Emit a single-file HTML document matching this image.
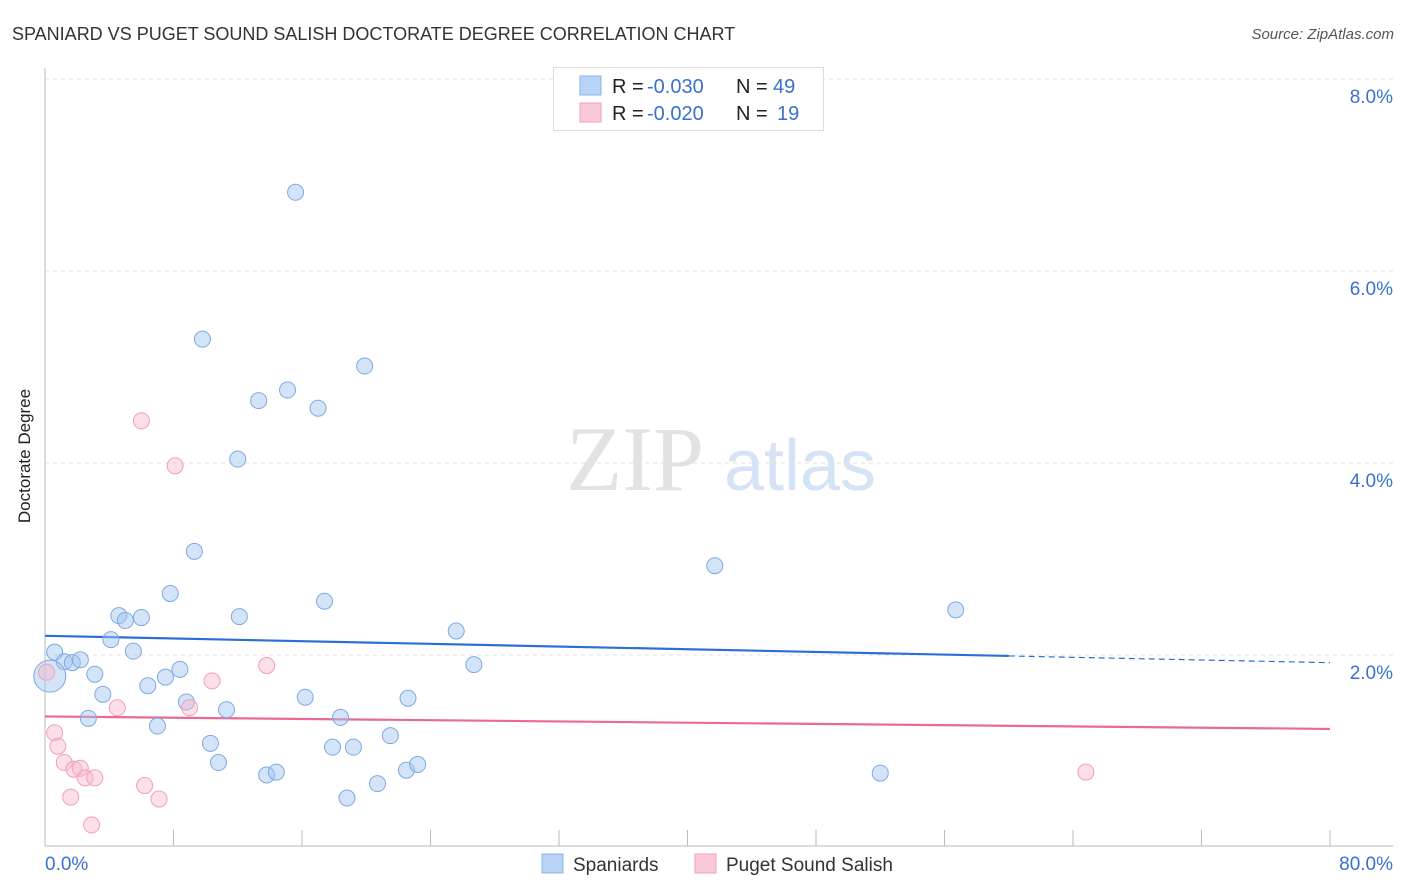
<!DOCTYPE html>
<html><head><meta charset="utf-8"><style>
body{margin:0;background:#fff;font-family:"Liberation Sans",sans-serif}
svg{display:block}
</style></head><body>
<svg id="c" width="1406" height="892">
<text x="12" y="40" font-size="18" fill="#333">SPANIARD VS PUGET SOUND SALISH DOCTORATE DEGREE CORRELATION CHART</text>
<text x="1394" y="39" font-size="15" fill="#555" font-style="italic" text-anchor="end">Source: ZipAtlas.com</text>
<text x="30" y="456" font-size="17" fill="#222" text-anchor="middle" transform="rotate(-90 30 456)">Doctorate Degree</text>
<g>
<text x="635" y="490" font-size="92" fill="#e2e2e2" font-family="Liberation Serif,serif" text-anchor="middle">ZIP</text>
<text x="800" y="490" font-size="72" fill="#d5e3f5" text-anchor="middle">atlas</text>
</g>
<g id="grid"></g><g id="axes"></g><g id="trends"></g><g id="pts"></g>
<g>
<rect x="553.5" y="67.5" width="270" height="63" fill="#fff" stroke="#ddd"/>
<rect x="580" y="76" width="21" height="19" fill="#b8d3f5" stroke="#8ab4e8"/>
<rect x="580" y="103" width="21" height="19" fill="#fac8d6" stroke="#f0a0b8"/>
<text x="612" y="93" font-size="20" fill="#222">R =</text>
<text x="647" y="93" font-size="20" fill="#3a70d0">-0.030</text>
<text x="736" y="93" font-size="20" fill="#222">N =</text>
<text x="773" y="93" font-size="20" fill="#3a70d0">49</text>
<text x="612" y="120" font-size="20" fill="#222">R =</text>
<text x="647" y="120" font-size="20" fill="#3a70d0">-0.020</text>
<text x="736" y="120" font-size="20" fill="#222">N =</text>
<text x="777" y="120" font-size="20" fill="#3a70d0">19</text>
</g>
<g>
<rect x="542" y="854" width="21" height="19" fill="#b8d3f5" stroke="#8ab4e8"/>
<text x="573" y="871" font-size="19" fill="#333">Spaniards</text>
<rect x="695" y="854" width="21" height="19" fill="#fac8d6" stroke="#f0a0b8"/>
<text x="726" y="871" font-size="19" fill="#333">Puget Sound Salish</text>
</g>
</svg>
<script>
const blueX=[15.6,9.8,19.9,13.3,15.1,17.0,12.0,9.3,41.7,7.8,17.4,56.7,4.6,5.0,6.0,12.1,4.1,25.6,5.5,0.6,1.2,1.7,2.2,26.7,3.1,8.4,7.5,6.4,3.6,16.2,22.6,8.8,11.3,2.7,18.4,7.0,21.5,10.3,17.9,19.2,10.8,13.8,14.4,22.5,23.2,52.0,18.8,20.7,0.3];
const blueY=[6.82,5.29,5.01,4.65,4.76,4.57,4.04,3.08,2.93,2.64,2.56,2.47,2.41,2.36,2.39,2.40,2.16,2.25,2.04,2.03,1.93,1.92,1.95,1.90,1.80,1.85,1.77,1.68,1.59,1.56,1.55,1.51,1.43,1.34,1.35,1.26,1.16,1.08,1.04,1.04,0.88,0.75,0.78,0.80,0.86,0.77,0.51,0.66,1.78];
const pinkX=[6.0,8.1,13.8,10.4,4.5,9.0,0.6,0.8,1.2,1.8,2.2,2.5,3.1,6.2,1.6,7.1,2.9,64.8,0.1];
const pinkY=[4.44,3.97,1.89,1.73,1.45,1.45,1.19,1.05,0.88,0.81,0.82,0.72,0.72,0.64,0.52,0.50,0.23,0.78,1.82];
const yTicks=[2,4,6,8];
const yTickLabels=["2.0%","4.0%","6.0%","8.0%"];
const blueTrend=[2.20,1.92];
const pinkTrend=[1.36,1.23];
const NS="http://www.w3.org/2000/svg";
const sx=v=>45+v*1285/80, sy=v=>847-v*96;
function mk(t,a,p){const e=document.createElementNS(NS,t);for(const k in a)e.setAttribute(k,a[k]);p.appendChild(e);return e;}
const grid=document.getElementById('grid'),axes=document.getElementById('axes'),tr=document.getElementById('trends'),pts=document.getElementById('pts');
yTicks.forEach((v,i)=>{
 const l=mk('line',{x1:45,x2:1393,y1:sy(v),y2:sy(v),stroke:'#e0e0e0','stroke-dasharray':'4,4'},grid);
 
 
 const t=mk('text',{x:1393,y:sy(v)+24,'font-size':19,fill:'#3a70d0','text-anchor':'end'},grid);
 t.textContent=yTickLabels[i];
 
 
});
const ax=mk('line',{x1:45,x2:45,y1:68,y2:846,stroke:'#bbb'},axes);


const bx=mk('line',{x1:45,x2:1393,y1:846,y2:846,stroke:'#bbb'},axes);


for(let i=0;i<=10;i++){const tk=mk('line',{x1:sx(i*8),x2:sx(i*8),y1:830,y2:846,stroke:'#bbb'},axes);
 
 }
[["0.0%",45,'start'],["80.0%",1393,'end']].forEach(d=>{const t=mk('text',{x:d[1],y:870,'font-size':19,fill:'#3a70d0','text-anchor':d[2]},axes);t.textContent=d[0];
 
 });
const b1=mk('line',{x1:sx(0),y1:sy(blueTrend[0]),x2:sx(60),y2:sy(blueTrend[0]+(blueTrend[1]-blueTrend[0])*0.75),stroke:'#2b6fd6','stroke-width':2.2},tr);


const b2=mk('line',{x1:sx(60),y1:sy(blueTrend[0]+(blueTrend[1]-blueTrend[0])*0.75),x2:sx(80),y2:sy(blueTrend[1]),stroke:'#2b6fd6','stroke-width':1.2,'stroke-dasharray':'6,4'},tr);


const p1=mk('line',{x1:sx(0),y1:sy(pinkTrend[0]),x2:sx(80),y2:sy(pinkTrend[1]),stroke:'#e86a94','stroke-width':2.2},tr);


blueX.forEach((x,i)=>{const c=mk('circle',{cx:sx(x),cy:sy(blueY[i]),r:i==blueX.length-1?16:8,fill:'rgba(160,195,240,0.45)',stroke:'#7fa9e3','stroke-width':1},pts);
 
 });
pinkX.forEach((x,i)=>{const c=mk('circle',{cx:sx(x),cy:sy(pinkY[i]),r:8,fill:'rgba(248,185,205,0.45)',stroke:'#f0a0b8','stroke-width':1},pts);
 
 });
</script>
</body></html>
